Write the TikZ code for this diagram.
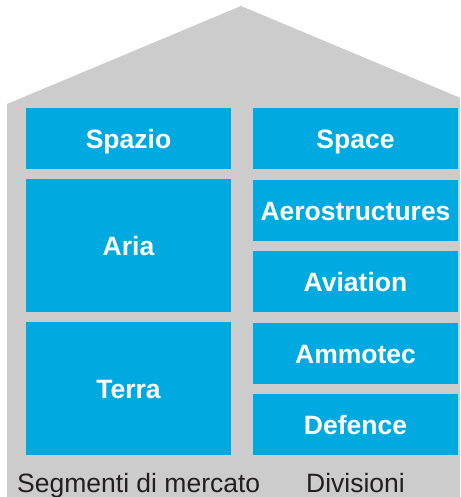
\documentclass[tikz,border=0pt]{standalone}
\usepackage{fontspec}
\setmainfont{Liberation Sans}
\usepackage{tikz}
\usetikzlibrary{calc}

\definecolor{roofgray}{HTML}{CCCCCC}
\definecolor{segblue}{HTML}{00A9E0}
\definecolor{captxt}{HTML}{231F20}

\tikzset{
    block/.style={fill=segblue, text=white, inner sep=0pt, minimum width=205pt,
        text height=20pt, text depth=0pt,
        font=\fontsize{26.5}{30}\selectfont\bfseries},
    small/.style={block, minimum height=61pt},
    tall/.style={block, minimum height=133pt},
    caption/.style={text=captxt, inner sep=0pt, anchor=base west,
        font=\fontsize{26.5}{30}\selectfont}
}

\begin{document}
\begin{tikzpicture}[x=1pt,y=-1pt]
        \useasboundingbox (0,0) rectangle (460,497);
        \begin{scope}
        \clip (0,0) rectangle (460,497);
        \fill[roofgray] (7,497) -- (7,104) -- (241,6) -- (475,104) -- (475,497) -- cycle;
        \end{scope}
        
        % segmenti di mercato
        \node[small] (spazio) at (128.5,138.5) {Spazio};
        \node[tall] (aria) at (128.5,245.5) {Aria};
        \node[tall] (terra) at (128.5,388.5) {Terra};
        
        % divisioni
        \node[small] (space) at (355.5,138.5) {Space};
        \node[small] (aerostr) at (355.5,210.5) {Aerostructures};
        \node[small] (aviation) at (355.5,281.5) {Aviation};
        \node[small] (ammotec) at (355.5,353.5) {Ammotec};
        \node[small] (defence) at (355.5,424.5) {Defence};
        
        \node[caption] (segm) at (17,492) {Segmenti di mercato};
        \node[caption] (divis) at (306,492) {Divisioni};
        
    \end{tikzpicture}
\end{document}
